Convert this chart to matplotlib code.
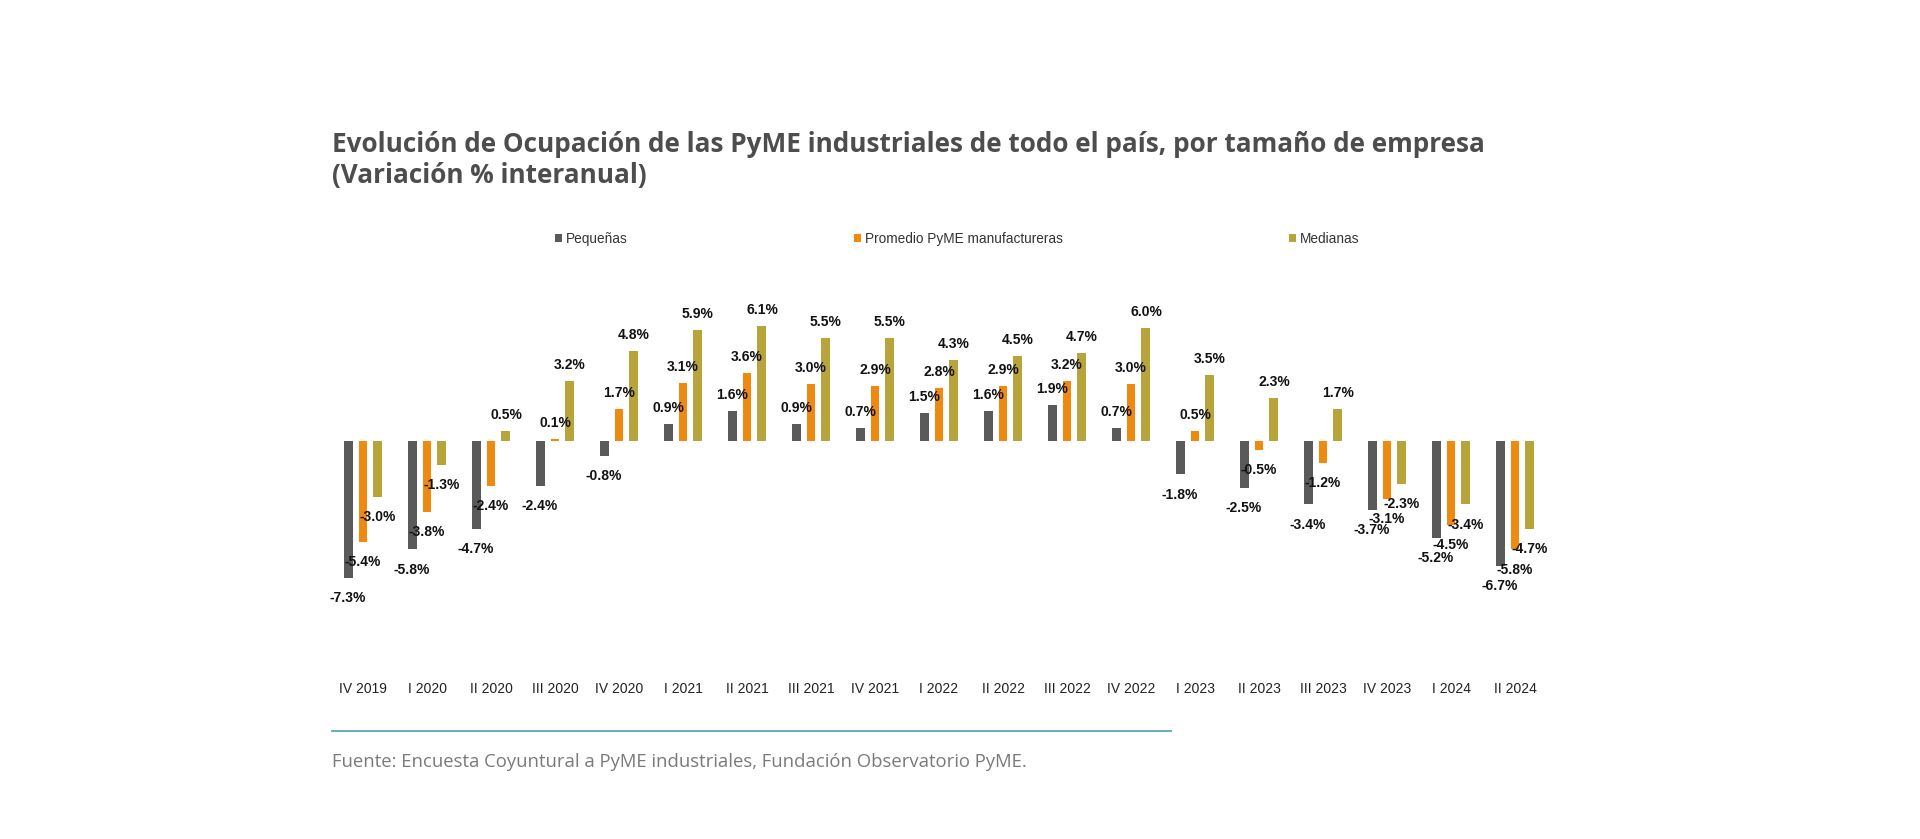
import matplotlib as mpl
import matplotlib.pyplot as plt
import numpy as np
from matplotlib.lines import Line2D

W, H = 1920, 839
DPI = 100

periods = [
    "IV 2019", "I 2020", "II 2020", "III 2020", "IV 2020", "I 2021", "II 2021",
    "III 2021", "IV 2021", "I 2022", "II 2022", "III 2022", "IV 2022", "I 2023",
    "II 2023", "III 2023", "IV 2023", "I 2024", "II 2024",
]
pequenas = [-7.3, -5.8, -4.7, -2.4, -0.8, 0.9, 1.6, 0.9, 0.7, 1.5, 1.6, 1.9,
            0.7, -1.8, -2.5, -3.4, -3.7, -5.2, -6.7]
promedio = [-5.4, -3.8, -2.4, 0.1, 1.7, 3.1, 3.6, 3.0, 2.9, 2.8, 2.9, 3.2,
            3.0, 0.5, -0.5, -1.2, -3.1, -4.5, -5.8]
medianas = [-3.0, -1.3, 0.5, 3.2, 4.8, 5.9, 6.1, 5.5, 5.5, 4.3, 4.5, 4.7,
            6.0, 3.5, 2.3, 1.7, -2.3, -3.4, -4.7]
series_names = ["Pequeñas", "Promedio PyME manufactureras", "Medianas"]

COLORS = ["#5a5a5b", "#f0890f", "#b7a53b"]
ARIAL = ["Liberation Sans", "DejaVu Sans"]


def px(x, y):
    # pixel (from top-left) -> figure fraction
    return x / W, 1 - y / H


fig = plt.figure(figsize=(W / DPI, H / DPI), dpi=DPI)
fig.patch.set_facecolor("white")

# axes box in pixels
left, right, top, bottom = 300, 1560, 250, 630
ax = fig.add_axes([left / W, 1 - bottom / H, (right - left) / W, (bottom - top) / H])

x0, dx = 363, 64  # group 0 centre and spacing in px
zero_y, unit = 440.7, 18.75
ax.set_xlim((left - x0) / dx, (right - x0) / dx)
ax.set_ylim(-(bottom - zero_y) / unit, (zero_y - top) / unit)

x = np.arange(len(periods))
offsets = [-0.234, 0.0, 0.234]
width = 0.14

handles = []
for vals, off, col, name in zip([pequenas, promedio, medianas], offsets, COLORS, series_names):
    bars = ax.bar(x + off, vals, width, color=col, label=name)
    handles.append(bars)
    for xi, v in zip(x + off, vals):
        dy = 11.5 if v >= 0 else -14.5
        ax.annotate(f"{v:.1f}%", (xi, v), xytext=(0, dy), textcoords="offset points",
                    ha="center", va="center", fontsize=10, fontweight="bold",
                    color="#111111", family=ARIAL)

ax.set_xticks(x)
ax.set_xticklabels(periods, family=ARIAL, fontsize=10, color="#222222")
ax.tick_params(axis="x", length=0, pad=37.5)
ax.set_yticks([])
for s in ax.spines.values():
    s.set_visible(False)

# legend: three separate entries at their own positions
leg_pos = [555, 854, 1289]
for h, name, lx in zip(handles, series_names, leg_pos):
    lg = fig.legend([h], [name], loc="center left", bbox_to_anchor=px(lx, 239),
                    frameon=False, borderpad=0, borderaxespad=0, handlelength=0.55,
                    handleheight=0.55, handletextpad=0.25,
                    prop={"family": ARIAL, "size": 9.8})
    for t in lg.get_texts():
        t.set_color("#333333")

# title
fig.text(*px(332, 145), "Evolución de Ocupación de las PyME industriales de todo el país, por tamaño de empresa",
         ha="left", va="center", fontsize=18.8, fontweight="bold", color="#4d4d4f", family="Open Sans")
fig.text(*px(332, 175), "(Variación % interanual)",
         ha="left", va="center", fontsize=18.8, fontweight="bold", color="#4d4d4f", family="Open Sans")

# separator line and source
fig.add_artist(Line2D([332 / W, 1171 / W], [1 - 731 / H, 1 - 731 / H], color="#5ea3b8", lw=1.3))
fig.text(*px(332, 762), "Fuente: Encuesta Coyuntural a PyME industriales, Fundación Observatorio PyME.",
         ha="left", va="center", fontsize=13.3, color="#7a7a7a", family="Open Sans")

fig.savefig("out.png", dpi=DPI)
